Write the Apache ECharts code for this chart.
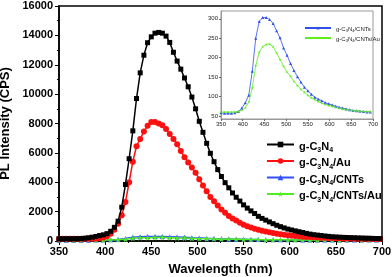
<!DOCTYPE html>
<html><head><meta charset="utf-8">
<script src="https://cdn.jsdelivr.net/npm/echarts@6/dist/echarts.min.js"></script>
<style>html,body{margin:0;padding:0;background:#fff}#c{width:392px;height:277px}</style>
</head><body><div id="c"></div>
<script>
// wavelength grid (nm) for g-C3N4 and g-C3N4/Au, step 4
const wl4 = [];
for (let w = 350; w <= 698; w += 4) wl4.push(w);
const gC3N4 = [
 150,150,150,150,150,160,170,190,220,260,
 310,370,420,500,660,930,1350,2300,3850,5600,
 7500,9700,11450,12650,13500,13900,14150,14200,14150,13950,
 13520,12850,12250,11700,11100,10500,9800,9000,8150,7400,
 6650,5970,5400,4860,4390,3970,3620,3270,2980,2720,
 2460,2240,2050,1870,1680,1540,1420,1300,1180,1070,
 975,890,810,750,690,633,580,520,470,430,
 400,370,340,315,290,275,260,248,237,228,
 220,210,200,192,185,178,170,165];
const gC3N4Au = [
 150,150,150,150,150,150,150,150,155,160,
 170,180,240,320,490,760,1170,1750,2650,4000,
 5400,6450,6950,7450,7850,8100,8100,8000,7880,7620,
 7280,6950,6580,6130,5700,5350,5000,4650,4200,3780,
 3380,3000,2700,2420,2150,1920,1700,1530,1400,1250,
 1100,1000,920,840,760,690,640,590,545,500,
 460,420,390,365,340,315,295,275,265,250,
 235,225,215,205,198,190,182,175,170,165,
 160,155,150,148,145,143,140,140];
// wavelength grid for CNT samples, step 8
const wl8 = [];
for (let w = 350; w <= 694; w += 8) wl8.push(w);
const gC3N4CNTs = [
 58,57,57,57,58,61,70,84,103,165,
 250,293,303,303,298,288,269,251,225,206,
 185,167,151,137,124,115,106,98,93,89,
 84,81,78,75,72,70,68,66,64,63,
 62,61,60,60];
const gC3N4CNTsAu = [
 60,60,60,60,60,61,65,71,86,122,
 180,214,228,234,235,228,212,195,178,163,
 152,139,128,119,111,103,97,92,87,83,
 80,77,75,72,70,68,66,65,64,63,
 62,62,61,61];
const insetYTicks = [50,100,150,200,250,300];
const names = ['g-C3N4','g-C3N4/Au','g-C3N4/CNTs','g-C3N4/CNTs/Au'];

const pair = (xs, ys) => xs.map((x, i) => [x, ys[i]]);
const STAR = 'path://M50,0 L61,35 L98,35 L68,57 L79,91 L50,70 L21,91 L32,57 L2,35 L39,35 Z';
const FONT = "Arial, 'Liberation Sans', sans-serif";
const C = {black:'#000000', red:'#ff1010', blue:'#3050ff', green:'#50ee20'};

function richName(n, key) {
  const rest = n.replace('g-C3N4', '');
  return '{' + key + 'n|g-C}{' + key + 's|3}{' + key + 'n|N}{' + key + 's|4}' + (rest ? '{' + key + 'n|' + rest + '}' : '');
}

const chart = echarts.init(document.getElementById('c'), null, {renderer: 'canvas'});
chart.setOption({
  animation: false,
  backgroundColor: '#fff',
  textStyle: {fontFamily: FONT},
  grid: [
    {left: 59, top: 6, width: 323, height: 235, show: true, borderColor: '#000', borderWidth: 1.5, outerBoundsMode: 'none', containLabel: false},
    {left: 221, top: 11, width: 152, height: 108, show: true, borderColor: '#999', borderWidth: 1, backgroundColor: '#fff', z: 5, outerBoundsMode: 'none', containLabel: false}
  ],
  xAxis: [
    {gridIndex: 0, type: 'value', min: 350, max: 700, interval: 50,
     name: 'Wavelength (nm)', nameLocation: 'middle', nameGap: 22,
     nameTextStyle: {fontSize: 13, fontWeight: 'bold', color: '#000', fontFamily: FONT},
     axisLine: {lineStyle: {color: '#000', width: 1.5}},
     axisTick: {inside: false, length: 4, lineStyle: {color: '#000', width: 1}},
     minorTick: {show: true, splitNumber: 2, length: 2, lineStyle: {color: '#000'}},
     axisLabel: {fontSize: 11, fontWeight: 'bold', color: '#000', margin: 5, fontFamily: FONT, formatter: v => String(v)},
     splitLine: {show: false}},
    {gridIndex: 1, type: 'value', min: 350, max: 700, interval: 50,
     axisLine: {lineStyle: {color: '#999', width: 1}},
     axisTick: {length: 2, lineStyle: {color: '#666'}},
     axisLabel: {fontSize: 6, color: '#222', margin: 2, fontFamily: FONT, formatter: v => String(v)},
     splitLine: {show: false}, z: 6}
  ],
  yAxis: [
    {gridIndex: 0, type: 'value', min: 0, max: 16000, interval: 2000,
     name: 'PL Intensity (CPS)', nameLocation: 'middle', nameGap: 42,
     nameTextStyle: {fontSize: 13, fontWeight: 'bold', color: '#000', fontFamily: FONT},
     axisLine: {lineStyle: {color: '#000', width: 1.5}},
     axisTick: {inside: false, length: 4, lineStyle: {color: '#000', width: 1}},
     minorTick: {show: true, splitNumber: 2, length: 2, lineStyle: {color: '#000'}},
     axisLabel: {fontSize: 11, fontWeight: 'bold', color: '#000', margin: 6, fontFamily: FONT, formatter: v => String(v)},
     splitLine: {show: false}},
    {gridIndex: 1, type: 'value', min: 42, max: 320,
     axisLine: {lineStyle: {color: '#999', width: 1}},
     axisTick: {length: 2, lineStyle: {color: '#666'}, customValues: insetYTicks},
     axisLabel: {fontSize: 6, color: '#222', margin: 3, fontFamily: FONT, customValues: insetYTicks, formatter: v => String(v)},
     splitLine: {show: false}, z: 6}
  ],
  legend: [
    {orient: 'vertical', left: 261, top: 136, itemWidth: 27, itemHeight: 7, itemGap: 3.5,
     data: names,
     formatter: n => richName(n, 'm'),
     textStyle: {rich: {
       mn: {fontSize: 11, fontWeight: 'bold', color: '#000', fontFamily: FONT, lineHeight: 15, verticalAlign: 'bottom'},
       ms: {fontSize: 7, fontWeight: 'bold', color: '#000', fontFamily: FONT, lineHeight: 15, verticalAlign: 'bottom', padding: [0, 0, -2, 0]}
     }}},
    {orient: 'vertical', left: 299, top: 21, itemWidth: 26, itemHeight: 4, itemGap: 3, z: 7,
     data: [{name: 'CNTs-inset'}, {name: 'CNTsAu-inset'}],
     formatter: n => richName(n === 'CNTs-inset' ? 'g-C3N4/CNTs' : 'g-C3N4/CNTs/Au', 'i'),
     textStyle: {rich: {
       in: {fontSize: 6, color: '#222', fontFamily: FONT, lineHeight: 8, verticalAlign: 'bottom'},
       is: {fontSize: 4, color: '#222', fontFamily: FONT, lineHeight: 8, verticalAlign: 'bottom', padding: [0, 0, -1, 0]}
     }}}
  ],
  series: [
    {name: names[0], type: 'line', xAxisIndex: 0, yAxisIndex: 0, data: pair(wl4, gC3N4),
     symbol: 'rect', symbolSize: 5, showAllSymbol: true, color: C.black,
     lineStyle: {width: 1.5, color: C.black}, itemStyle: {color: C.black}, z: 4},
    {name: names[1], type: 'line', xAxisIndex: 0, yAxisIndex: 0, data: pair(wl4, gC3N4Au),
     symbol: 'circle', symbolSize: 6, showAllSymbol: true, color: C.red,
     lineStyle: {width: 1.5, color: C.red}, itemStyle: {color: C.red}, z: 3},
    {name: names[2], type: 'line', xAxisIndex: 0, yAxisIndex: 0, data: pair(wl8, gC3N4CNTs),
     symbol: 'triangle', symbolSize: 5, showAllSymbol: true, color: C.blue,
     lineStyle: {width: 1.5, color: C.blue}, itemStyle: {color: C.blue}, z: 2},
    {name: names[3], type: 'line', xAxisIndex: 0, yAxisIndex: 0, data: pair(wl8, gC3N4CNTsAu),
     symbol: STAR, symbolSize: 6, showAllSymbol: true, color: C.green,
     lineStyle: {width: 1.5, color: C.green}, itemStyle: {color: C.green}, z: 2},
    {name: 'CNTs-inset', type: 'line', xAxisIndex: 1, yAxisIndex: 1, data: pair(wl8, gC3N4CNTs),
     symbol: 'triangle', symbolSize: 3, showAllSymbol: true, color: '#3050ee',
     lineStyle: {width: 0.8, color: '#3050ee'}, itemStyle: {color: '#3050ee'}, z: 8},
    {name: 'CNTsAu-inset', type: 'line', xAxisIndex: 1, yAxisIndex: 1, data: pair(wl8, gC3N4CNTsAu),
     symbol: STAR, symbolSize: 3, showAllSymbol: true, color: '#60ee20',
     lineStyle: {width: 0.8, color: '#60ee20'}, itemStyle: {color: '#60ee20'}, z: 8}
  ]
});
</script></body></html>
